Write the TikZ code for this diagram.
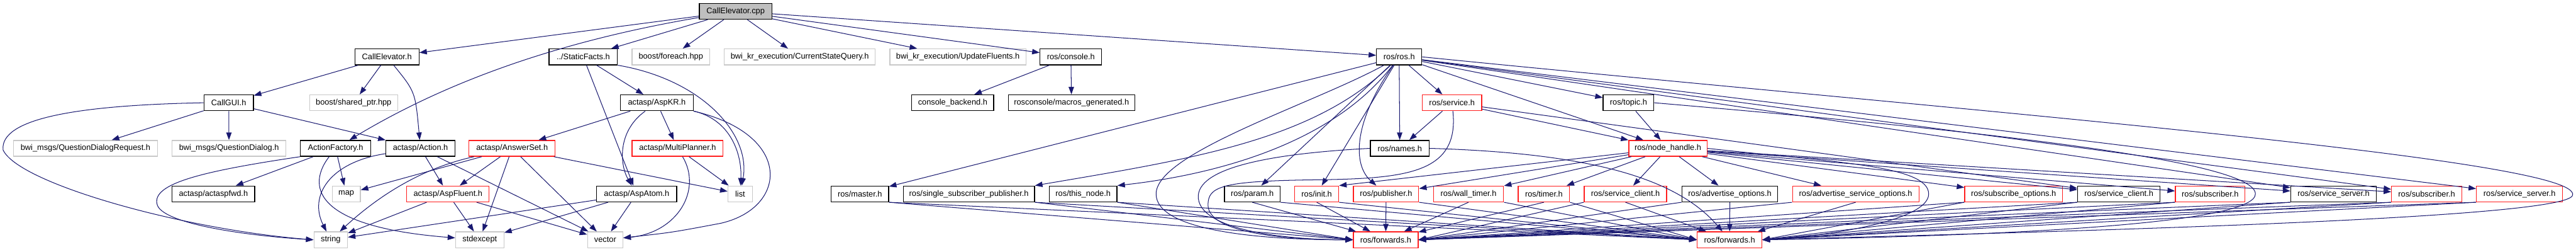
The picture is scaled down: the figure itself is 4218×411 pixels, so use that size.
\documentclass[tikz,border=0pt]{standalone}
\usepackage{fontspec}
\setmainfont{Liberation Sans}
\usetikzlibrary{arrows.meta}
\definecolor{EdgeBlue}{RGB}{25,25,112}
\definecolor{RootGray}{RGB}{191,191,191}
\definecolor{SysGray}{RGB}{200,200,200}
\definecolor{TruncRed}{RGB}{255,30,30}

\begin{document}
\begin{tikzpicture}[x=0.02cm,y=-0.02cm,>={Triangle[length=7pt,width=5pt]},
    file/.style={draw=black,line width=0.75pt,minimum height=0.52cm,inner sep=0pt,font=\fontsize{7.5}{9}\selectfont},
    wd/.style={minimum width=#1*0.02cm},
    root/.style={file,fill=RootGray},
    sys/.style={file,draw=SysGray},
    trunc/.style={file,draw=TruncRed},
    inc/.style={->,draw=EdgeBlue,line width=0.6pt}]
  \useasboundingbox (0,0) rectangle (4218,411);
  % rank 0
  \node[root,wd=119] (cpp) at (1204.5,18.5) {CallElevator.cpp};
  % rank 1
  \node[file,wd=105] (ceh) at (633.5,93) {CallElevator.h};
  \node[file,wd=112] (sfh) at (955,93) {../StaticFacts.h};
  \node[sys,wd=127] (bfe) at (1098.5,93) {boost/foreach.hpp};
  \node[sys,wd=247] (csq) at (1309.5,93) {bwi\_kr\_execution/CurrentStateQuery.h};
  \node[sys,wd=223] (upd) at (1568.5,93) {bwi\_kr\_execution/UpdateFluents.h};
  \node[file,wd=101] (console) at (1753.5,93) {ros/console.h};
  \node[file,wd=74] (rosh) at (2291,93) {ros/ros.h};
  % rank 2
  \node[file,wd=81] (gui) at (374.5,168) {CallGUI.h};
  \node[sys,wd=144] (sptr) at (579,168) {boost/shared\_ptr.hpp};
  \node[file,wd=119] (aspkr) at (1075.5,168) {actasp/AspKR.h};
  \node[file,wd=134] (backend) at (1560,168) {console\_backend.h};
  \node[file,wd=207] (macros) at (1754.5,168) {rosconsole/macros\_generated.h};
  \node[trunc,wd=97] (service) at (2377.5,168) {ros/service.h};
  \node[file,wd=83] (topic) at (2666.5,168) {ros/topic.h};
  % rank 3
  \node[sys,wd=236] (qdr) at (140,242.5) {bwi\_msgs/QuestionDialogRequest.h};
  \node[sys,wd=186] (qd) at (375,242.5) {bwi\_msgs/QuestionDialog.h};
  \node[file,wd=115] (af) at (549.5,242.5) {ActionFactory.h};
  \node[file,wd=113] (action) at (688.5,242.5) {actasp/Action.h};
  \node[trunc,wd=141] (answer) at (838.5,242.5) {actasp/AnswerSet.h};
  \node[trunc,wd=149] (multi) at (1109.5,242.5) {actasp/MultiPlanner.h};
  \node[file,wd=96] (names) at (2292,242.5) {ros/names.h};
  \node[trunc,wd=128] (nh) at (2731,242.5) {ros/node\_handle.h};
  % rank 4
  \node[file,wd=135] (fwd) at (349.5,317) {actasp/actaspfwd.h};
  \node[sys,wd=46] (map) at (567,317) {map};
  \node[trunc,wd=135] (fluent) at (733.5,317) {actasp/AspFluent.h};
  \node[file,wd=131] (atom) at (1042.5,317) {actasp/AspAtom.h};
  \node[sys,wd=40] (list) at (1212,317) {list};
  \node[file,wd=94] (master) at (1408,317) {ros/master.h};
  \node[file,wd=215] (ssp) at (1586.5,317) {ros/single\_subscriber\_publisher.h};
  \node[file,wd=111] (thisnode) at (1773.5,317) {ros/this\_node.h};
  \node[file,wd=91] (param) at (2050.5,317) {ros/param.h};
  \node[trunc,wd=72] (init) at (2156,317) {ros/init.h};
  \node[trunc,wd=107] (pub) at (2269.5,317) {ros/publisher.h};
  \node[trunc,wd=115] (wall) at (2404.5,317) {ros/wall\_timer.h};
  \node[trunc,wd=84] (timer) at (2528,317) {ros/timer.h};
  \node[trunc,wd=135] (sca) at (2661.5,317) {ros/service\_client.h};
  \node[file,wd=157] (advo) at (2832.5,317) {ros/advertise\_options.h};
  \node[trunc,wd=207] (adso) at (3038.5,317) {ros/advertise\_service\_options.h};
  \node[trunc,wd=160] (subo) at (3297,317) {ros/subscribe\_options.h};
  \node[file,wd=135] (scb) at (3469.5,317) {ros/service\_client.h};
  \node[trunc,wd=114] (suba) at (3619,317) {ros/subscriber.h};
  \node[file,wd=140] (ssb) at (3821,317) {ros/service\_server.h};
  \node[trunc,wd=115] (subb) at (3973.5,317) {ros/subscriber.h};
  \node[trunc,wd=141] (ssa) at (4125.5,317) {ros/service\_server.h};
  % rank 5
  \node[sys,wd=55] (string) at (541.5,392) {string};
  \node[sys,wd=79] (stdexcept) at (785.5,392) {stdexcept};
  \node[sys,wd=58] (vector) at (991,392) {vector};
  \node[trunc,wd=106] (fwa) at (2269,392) {ros/forwards.h};
  \node[trunc,wd=106] (fwb) at (2832,392) {ros/forwards.h};

  % CallElevator.cpp
  \draw[inc] (cpp) -- (ceh);
  \draw[inc] (cpp) .. controls (900,70) and (720,140) .. (af);
  \foreach \t in {sfh,bfe,csq,upd,console,rosh}
    \draw[inc] (cpp) -- (\t);
  % CallElevator.h and CallGUI.h
  \draw[inc] (ceh) -- (gui);
  \draw[inc] (ceh) -- (sptr);
  \draw[inc] (ceh) .. controls (680,150) .. (action);
  \foreach \t in {qdr,qd,action}
    \draw[inc] (gui) -- (\t);
  \draw[inc] (gui.west) .. controls (120,172) and (0,195) .. (5,245)
    .. controls (30,300) and (300,375) .. (string.west);
  % ActionFactory.h, Action.h
  \draw[inc] (af) -- (fwd);
  \draw[inc] (af) -- (map);
  \draw[inc] (af) .. controls (505,300) and (505,370) .. (stdexcept);
  \draw[inc] (af.south west) .. controls (330,280) and (250,300) .. (257,333)
    .. controls (262,365) and (400,385) .. (string.west);
  \draw[inc] (action) .. controls (540,265) and (505,320) .. (string);
  \draw[inc] (action) -- (fluent);
  \draw[inc] (action) -- (vector);
  % actasp
  \draw[inc] (answer) -- (map);
  \draw[inc] (answer) .. controls (690,275) and (620,320) .. (string);
  \foreach \t in {fluent,stdexcept,vector,list}
    \draw[inc] (answer) -- (\t);
  \foreach \t in {string,stdexcept,vector} {
    \draw[inc] (fluent) -- (\t);
    \draw[inc] (atom) -- (\t);
  }
  \draw[inc] (multi) -- (list);
  \draw[inc] (multi) .. controls (1150,310) and (1110,380) .. (vector);
  \draw[inc] (aspkr) -- (answer);
  \draw[inc] (aspkr) -- (multi);
  \draw[inc] (aspkr) .. controls (1010,215) and (1015,270) .. (atom);
  \draw[inc] (aspkr) .. controls (1195,195) and (1215,250) .. (list);
  \draw[inc] (aspkr.south east) .. controls (1300,220) and (1290,340) .. (1180,365)
    .. controls (1100,380) .. (vector);
  \draw[inc] (sfh) -- (aspkr);
  \draw[inc] (sfh) -- (atom);
  \draw[inc] (sfh.south east) .. controls (1150,130) and (1230,220) .. (list);
  % ros/console.h
  \draw[inc] (console) -- (backend);
  \draw[inc] (console) -- (macros);

  % ros/ros.h
  \foreach \t in {master,param,init,names,service,topic,nh,ssb,subb,ssa}
    \draw[inc] (rosh) -- (\t);
  \draw[inc] (rosh) .. controls (2150,230) and (1950,260) .. (ssp.north east);
  \draw[inc] (rosh) .. controls (2170,250) and (1950,290) .. (thisnode.north east);
  \draw[inc] (rosh) .. controls (2215,200) and (2215,270) .. (pub);
  \draw[inc] (rosh) .. controls (2150,170) and (1893,250) .. (1893,317)
    .. controls (1893,375) and (2050,392) .. (fwa.west);
  \draw[inc] (rosh.east) .. controls (3200,180) and (4240,260) .. (4212,320)
    .. controls (4190,360) and (3300,380) .. (fwb.east);
  % ros/service.h, ros/names.h, ros/topic.h
  \draw[inc] (service) -- (names);
  \draw[inc] (service) -- (nh);
  \draw[inc] (service) -- (scb);
  \draw[inc] (service) .. controls (2390,285) and (2300,292) .. (2150,294)
    .. controls (2000,296) and (1978,305) .. (1978,335)
    .. controls (1978,380) and (2100,392) .. (fwa.west);
  \draw[inc] (names.west) .. controls (2100,250) and (1965,270) .. (1962,320)
    .. controls (1960,375) and (2100,392) .. (fwa.west);
  \draw[inc] (names.east) .. controls (2600,250) and (2745,290) .. (fwb);
  \draw[inc] (topic) -- (nh);
  \draw[inc] (topic.east) .. controls (3200,210) and (3693,260) .. (3693,317)
    .. controls (3693,365) and (3300,385) .. (fwb.east);
  % ros/node_handle.h
  \draw[inc] (nh) -- (init.north east);
  \foreach \t in {pub,wall,timer,sca,advo,adso,subo,scb,suba,ssb,subb}
    \draw[inc] (nh) -- (\t);
  \draw[inc] (nh.east) .. controls (3000,265) and (3158,270) .. (3158,317)
    .. controls (3158,360) and (3000,385) .. (fwb.east);

  % everything into the two forwards.h
  \foreach \s in {master,ssp,thisnode}
    \draw[inc] (\s.south east) -- (fwa.west);
  \foreach \s in {param,init,pub,wall,timer}
    \draw[inc] (\s.south) -- (fwa);
  \foreach \s in {sca,advo,adso,subo,scb,suba,ssb,subb,ssa}
    \draw[inc] (\s.south west) -- (fwa.east);
  \foreach \s in {master,ssp,thisnode,param,init,pub,wall,timer}
    \draw[inc] (\s.south east) -- (fwb.west);
  \foreach \s in {sca,advo,adso}
    \draw[inc] (\s.south) -- (fwb);
  \foreach \s in {subo,scb,suba,ssb,subb,ssa}
    \draw[inc] (\s.south west) -- (fwb.east);
\end{tikzpicture}
\end{document}
